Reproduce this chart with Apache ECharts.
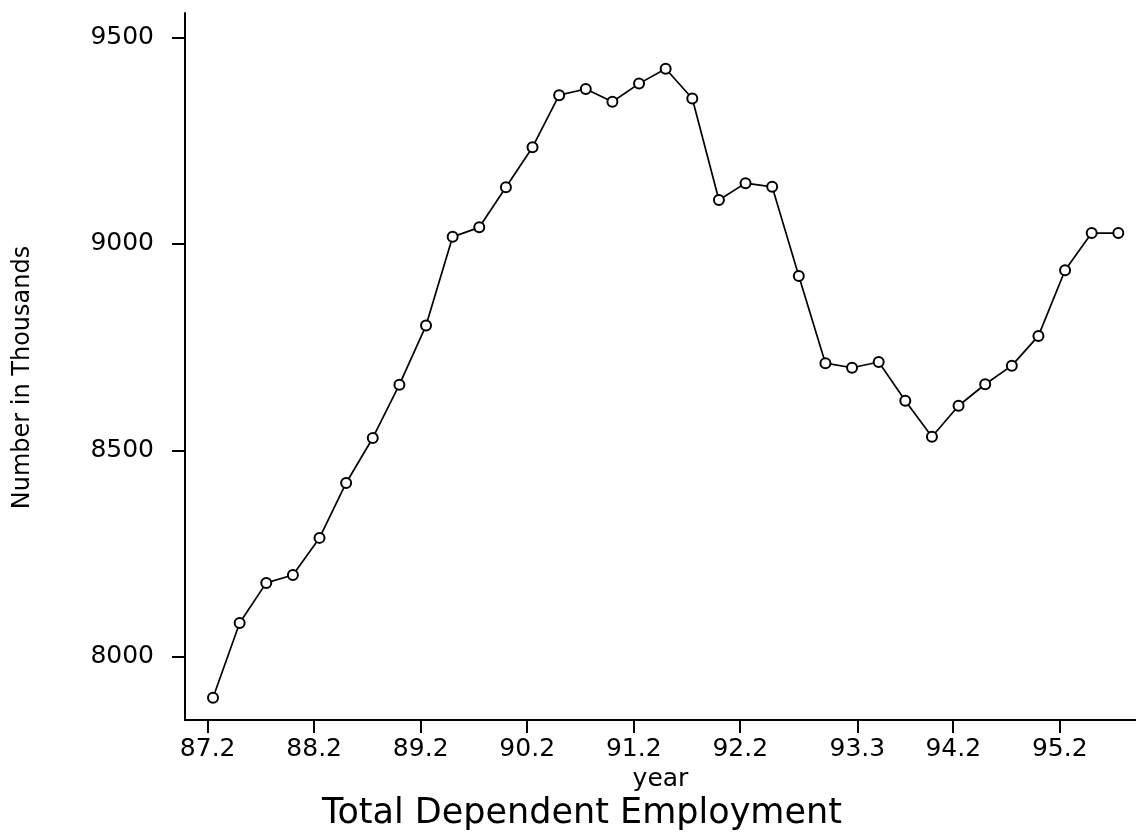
<!DOCTYPE html>
<html>
<head>
<meta charset="utf-8">
<script src="https://cdn.jsdelivr.net/npm/echarts@6/dist/echarts.min.js"></script>
<style>html,body{margin:0;padding:0;background:#fff}#c{width:1136px;height:835px}</style>
</head>
<body>
<div id="c"></div>
<script>
// quarterly observations (decimal year, 87.25 = 1987 Q2)
const quarters = [87.25, 87.5, 87.75, 88.0, 88.25, 88.5, 88.75, 89.0, 89.25, 89.5, 89.75, 90.0,
  90.25, 90.5, 90.75, 91.0, 91.25, 91.5, 91.75, 92.0, 92.25, 92.5, 92.75, 93.0,
  93.25, 93.5, 93.75, 94.0, 94.25, 94.5, 94.75, 95.0, 95.25, 95.5, 95.75];
const employment = [7901, 8082, 8179, 8198, 8288, 8421, 8530, 8659, 8802, 9017, 9040, 9137,
  9234, 9360, 9375, 9344, 9388, 9424, 9352, 9106, 9147, 9138, 8922, 8711,
  8700, 8714, 8620, 8533, 8608, 8660, 8705, 8777, 8936, 9026, 9026];
const xTicks = [87.2, 88.2, 89.2, 90.2, 91.2, 92.2, 93.3, 94.2, 95.2];
const yTicks = [8000, 8500, 9000, 9500];

const FONT = 'DejaVu Sans';
const chart = echarts.init(document.getElementById('c'), null, {renderer: 'canvas'});
chart.setOption({
  backgroundColor: '#ffffff',
  animation: false,
  title: {
    text: 'Total Dependent Employment',
    left: 322, top: 796, padding: 0,
    textStyle: {fontFamily: FONT, fontWeight: 'normal', fontSize: 35, color: '#000'}
  },
  grid: {left: 185, right: 0, top: 13, bottom: 115, containLabel: false, outerBoundsMode: 'none'},
  xAxis: {
    type: 'value', min: 86.987, max: 95.916,
    name: 'year', nameLocation: 'middle', nameGap: 46,
    nameTextStyle: {fontFamily: FONT, fontSize: 25, color: '#000'},
    axisLine: {show: true, onZero: false, lineStyle: {color: '#000', width: 2}},
    axisTick: {show: true, customValues: xTicks, length: 13, lineStyle: {color: '#000', width: 2}},
    axisLabel: {show: true, customValues: xTicks, margin: 17, fontFamily: FONT, fontSize: 25, color: '#000',
      formatter: v => Number(v).toFixed(1)},
    splitLine: {show: false}
  },
  yAxis: {
    type: 'value', min: 7847, max: 9559,
    name: 'Number in Thousands', nameLocation: 'middle', nameGap: 150, nameRotate: 90,
    nameTextStyle: {fontFamily: FONT, fontSize: 24, color: '#000', padding: [0, 22, 0, 0]},
    axisLine: {show: true, onZero: false, lineStyle: {color: '#000', width: 2}},
    axisTick: {show: true, customValues: yTicks, length: 13, lineStyle: {color: '#000', width: 2}},
    axisLabel: {show: true, customValues: yTicks, margin: 31, fontFamily: FONT, fontSize: 25, color: '#000',
      padding: [8, 0, 0, 0], formatter: v => String(v)},
    splitLine: {show: false}
  },
  series: [{
    type: 'line',
    data: quarters.map((q, i) => [q, employment[i]]),
    symbol: 'emptyCircle', symbolSize: 10,
    lineStyle: {color: '#000', width: 1.7},
    itemStyle: {color: '#000', borderColor: '#000', borderWidth: 1.5},
    clip: false
  }]
});
</script>
</body>
</html>
